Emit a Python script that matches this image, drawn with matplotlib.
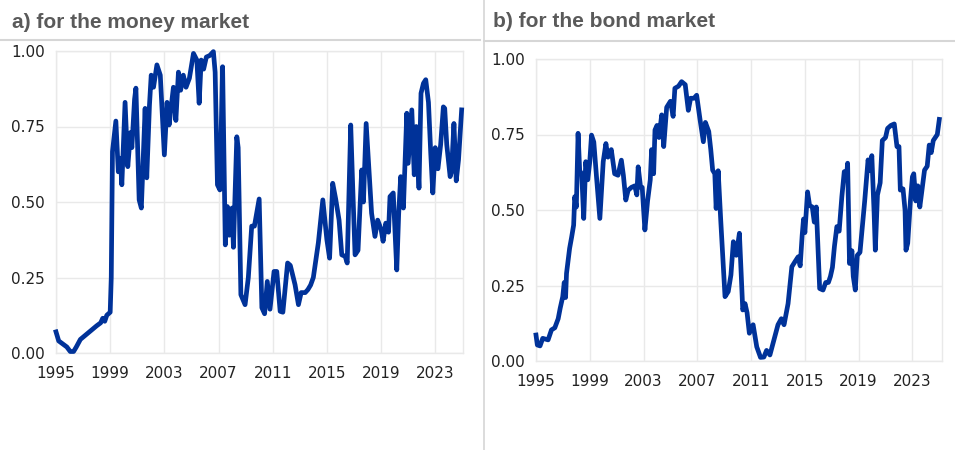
import matplotlib
matplotlib.use("Agg")
import matplotlib.pyplot as plt
from matplotlib.lines import Line2D
import numpy as np

# a) money market
money_years = [1995.0, 1995.2, 1995.5, 1995.8, 1996.05, 1996.3, 1996.5, 1996.8, 1997.2, 1997.6,
               1998.0, 1998.3, 1998.45, 1998.6, 1998.75, 1999.0, 1999.08, 1999.17, 1999.42, 1999.6,
               1999.75, 1999.86, 2000.1, 2000.3, 2000.5, 2000.6, 2000.8, 2000.9, 2001.14, 2001.3,
               2001.58, 2001.7, 2001.9, 2002.03, 2002.2, 2002.45, 2002.7, 2003.0, 2003.2, 2003.35,
               2003.67, 2003.85, 2004.04, 2004.2, 2004.4, 2004.6, 2004.85, 2005.15, 2005.4, 2005.57,
               2005.72, 2005.9, 2006.1, 2006.35, 2006.62, 2006.75, 2006.92, 2007.1, 2007.3, 2007.5,
               2007.65, 2007.8, 2008.0, 2008.1, 2008.35, 2008.45, 2008.65, 2008.96, 2009.2, 2009.45,
               2009.65, 2010.0, 2010.2, 2010.4, 2010.6, 2010.8, 2011.1, 2011.3, 2011.55, 2011.75,
               2012.1, 2012.3, 2012.65, 2012.9, 2013.1, 2013.4, 2013.6, 2013.8, 2014.0, 2014.37,
               2014.7, 2015.0, 2015.2, 2015.43, 2015.65, 2015.9, 2016.1, 2016.35, 2016.5, 2016.76,
               2016.9, 2017.08, 2017.3, 2017.57, 2017.7, 2017.9, 2018.15, 2018.3, 2018.55, 2018.75,
               2019.0, 2019.15, 2019.35, 2019.55, 2019.66, 2019.9, 2020.16, 2020.3, 2020.45, 2020.65,
               2020.9, 2021.0, 2021.27, 2021.45, 2021.6, 2021.8, 2021.95, 2022.13, 2022.3, 2022.5,
               2022.67, 2022.82, 2023.0, 2023.2, 2023.4, 2023.6, 2023.7, 2023.85, 2024.1, 2024.2,
               2024.38, 2024.55, 2024.72, 2024.95]
money_vals = [0.07, 0.04, 0.03, 0.02, 0.005, 0.005, 0.02, 0.045, 0.06, 0.075,
              0.09, 0.10, 0.115, 0.105, 0.125, 0.135, 0.25, 0.667, 0.768, 0.60,
              0.645, 0.557, 0.83, 0.617, 0.73, 0.68, 0.84, 0.877, 0.507, 0.48,
              0.81, 0.58, 0.82, 0.92, 0.88, 0.954, 0.92, 0.656, 0.83, 0.755,
              0.88, 0.77, 0.93, 0.87, 0.92, 0.88, 0.91, 0.992, 0.97, 0.827,
              0.97, 0.94, 0.98, 0.985, 0.998, 0.93, 0.557, 0.54, 0.948, 0.358,
              0.485, 0.39, 0.48, 0.35, 0.716, 0.68, 0.193, 0.16, 0.25, 0.42,
              0.42, 0.51, 0.15, 0.13, 0.237, 0.145, 0.27, 0.27, 0.138, 0.135,
              0.298, 0.29, 0.226, 0.16, 0.20, 0.20, 0.21, 0.225, 0.25, 0.365,
              0.507, 0.375, 0.314, 0.562, 0.51, 0.44, 0.325, 0.32, 0.298, 0.755,
              0.56, 0.325, 0.34, 0.606, 0.50, 0.76, 0.573, 0.463, 0.386, 0.44,
              0.41, 0.37, 0.43, 0.40, 0.518, 0.53, 0.275, 0.46, 0.584, 0.48,
              0.794, 0.628, 0.805, 0.59, 0.75, 0.546, 0.86, 0.893, 0.905, 0.83,
              0.66, 0.53, 0.68, 0.61, 0.69, 0.815, 0.81, 0.69, 0.584, 0.60,
              0.76, 0.57, 0.64, 0.805]

# b) bond market
bond_years = [1995.0, 1995.1, 1995.3, 1995.5, 1995.9, 1996.15, 1996.4, 1996.65, 1996.8, 1996.99,
              1997.1, 1997.2, 1997.27, 1997.5, 1997.65, 1997.8, 1997.88, 1998.0, 1998.13, 1998.25,
              1998.4, 1998.55, 1998.7, 1998.85, 1999.0, 1999.13, 1999.3, 1999.5, 1999.75, 2000.0,
              2000.2, 2000.35, 2000.6, 2000.85, 2001.1, 2001.35, 2001.5, 2001.68, 2001.85, 2002.1,
              2002.35, 2002.5, 2002.6, 2002.78, 2002.9, 2003.1, 2003.3, 2003.5, 2003.6, 2003.75,
              2003.85, 2004.0, 2004.15, 2004.35, 2004.5, 2004.72, 2005.0, 2005.2, 2005.33, 2005.6,
              2005.83, 2006.1, 2006.33, 2006.5, 2006.75, 2006.95, 2007.2, 2007.45, 2007.6, 2007.85,
              2008.0, 2008.14, 2008.3, 2008.4, 2008.55, 2008.74, 2008.94, 2009.06, 2009.3, 2009.5,
              2009.68, 2009.9, 2010.13, 2010.38, 2010.55, 2010.7, 2010.87, 2011.15, 2011.42, 2011.7,
              2011.95, 2012.15, 2012.4, 2012.7, 2013.0, 2013.25, 2013.45, 2013.75, 2014.03, 2014.28,
              2014.5, 2014.65, 2014.8, 2014.9, 2015.0, 2015.2, 2015.35, 2015.55, 2015.7, 2015.85,
              2016.1, 2016.35, 2016.55, 2016.75, 2016.9, 2017.05, 2017.2, 2017.38, 2017.55, 2017.75,
              2017.93, 2018.1, 2018.18, 2018.32, 2018.5, 2018.6, 2018.75, 2018.9, 2019.1, 2019.3,
              2019.45, 2019.7, 2019.85, 2019.98, 2020.15, 2020.24, 2020.4, 2020.6, 2020.76, 2021.0,
              2021.15, 2021.4, 2021.65, 2021.85, 2022.0, 2022.1, 2022.3, 2022.45, 2022.52, 2022.65,
              2022.85, 2023.0, 2023.1, 2023.25, 2023.4, 2023.55, 2023.75, 2023.9, 2024.1, 2024.25,
              2024.4, 2024.55, 2024.7, 2024.85, 2025.0]
bond_vals = [0.086, 0.053, 0.05, 0.075, 0.07, 0.103, 0.11, 0.14, 0.175, 0.213,
             0.26, 0.21, 0.29, 0.373, 0.41, 0.45, 0.544, 0.51, 0.754, 0.63,
             0.62, 0.472, 0.66, 0.60, 0.66, 0.748, 0.725, 0.61, 0.472, 0.66,
             0.72, 0.675, 0.70, 0.62, 0.615, 0.665, 0.615, 0.533, 0.565, 0.575,
             0.58, 0.55, 0.643, 0.575, 0.575, 0.434, 0.53, 0.60, 0.70, 0.62,
             0.765, 0.78, 0.74, 0.815, 0.71, 0.84, 0.86, 0.81, 0.903, 0.91,
             0.925, 0.915, 0.83, 0.87, 0.87, 0.88, 0.80, 0.726, 0.79, 0.76,
             0.70, 0.632, 0.62, 0.505, 0.63, 0.467, 0.312, 0.213, 0.23, 0.285,
             0.395, 0.35, 0.423, 0.169, 0.19, 0.16, 0.092, 0.12, 0.047, 0.012,
             0.013, 0.035, 0.02, 0.07, 0.12, 0.14, 0.12, 0.19, 0.312, 0.33,
             0.345, 0.315, 0.417, 0.47, 0.425, 0.56, 0.515, 0.51, 0.46, 0.51,
             0.24, 0.235, 0.26, 0.26, 0.28, 0.31, 0.38, 0.445, 0.43, 0.544,
             0.627, 0.61, 0.655, 0.323, 0.365, 0.28, 0.235, 0.35, 0.36, 0.456,
             0.53, 0.666, 0.63, 0.68, 0.49, 0.367, 0.55, 0.59, 0.73, 0.74,
             0.77, 0.78, 0.785, 0.71, 0.71, 0.566, 0.57, 0.50, 0.367, 0.39,
             0.53, 0.61, 0.62, 0.53, 0.58, 0.51, 0.58, 0.632, 0.645, 0.715,
             0.69, 0.73, 0.74, 0.75, 0.80]

titles = ["a) for the money market", "b) for the bond market"]
year_ticks = list(range(1995, 2024, 4))
value_ticks = [0.0, 0.25, 0.5, 0.75, 1.0]

W, H = 955, 450
line_col = "#003299"
grid_col = "#e9e9e9"
title_col = "#5a5a5a"
sep_col = "#d6d6d6"

fig = plt.figure(figsize=(W / 100, H / 100), dpi=100)


def px_axes(left, top, right, bottom):
    return fig.add_axes([left / W, 1 - bottom / H, (right - left) / W, (bottom - top) / H])


ax_a = px_axes(56, 51, 463, 353)
ax_b = px_axes(536, 59, 942, 361)

panels = [(ax_a, money_years, money_vals, 2025.05), (ax_b, bond_years, bond_vals, 2025.2)]
for ax, xs, ys, xmax in panels:
    ax.plot(xs, ys, color=line_col, lw=3.4, solid_joinstyle="round", clip_on=False, zorder=3)
    ax.set_xlim(1995, xmax)
    ax.set_ylim(0, 1)
    ax.set_xticks(year_ticks)
    ax.set_yticks(value_ticks)
    ax.set_yticklabels([f"{v:.2f}" for v in value_ticks])
    ax.tick_params(length=0, labelsize=11, colors="#222222")
    ax.tick_params(axis="x", pad=9)
    ax.tick_params(axis="y", pad=8)
    ax.grid(True, color=grid_col, lw=1)
    ax.set_axisbelow(True)
    for s in ax.spines.values():
        s.set_color(grid_col)
        s.set_linewidth(1)

# panel headers and separators
fig.text(12 / W, 1 - 28 / H, titles[0], fontsize=15, fontweight="bold",
         color=title_col, family="Liberation Sans", va="baseline")
fig.text(493 / W, 1 - 27 / H, titles[1], fontsize=15, fontweight="bold",
         color=title_col, family="Liberation Sans", va="baseline")
fig.add_artist(Line2D([0, 480 / W], [1 - 40 / H, 1 - 40 / H], color=sep_col, lw=1.5))
fig.add_artist(Line2D([484 / W, 1], [1 - 41 / H, 1 - 41 / H], color=sep_col, lw=1.5))
fig.add_artist(Line2D([484 / W, 484 / W], [0, 1], color=sep_col, lw=1.2))

fig.savefig("out.png", dpi=100)
